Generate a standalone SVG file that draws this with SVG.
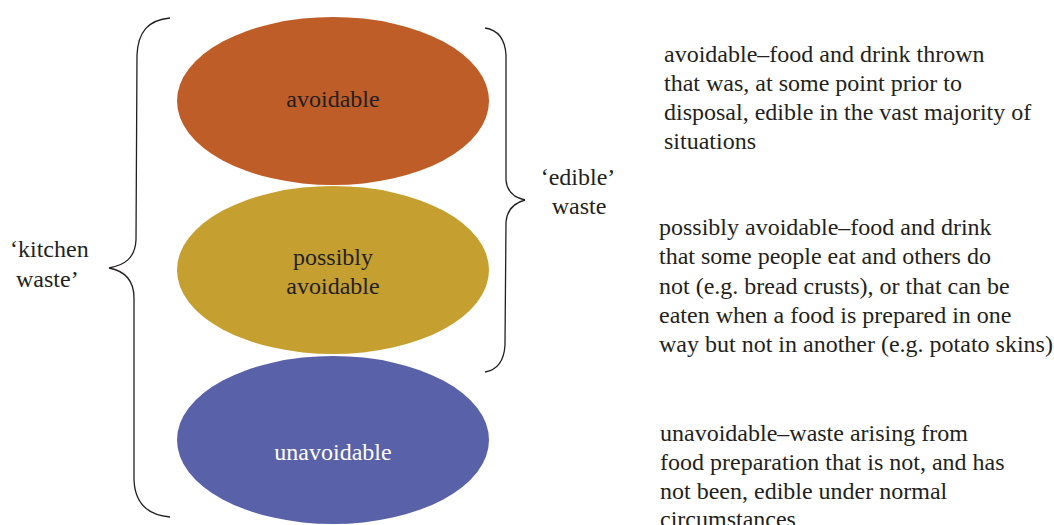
<svg xmlns="http://www.w3.org/2000/svg" width="1054" height="525" viewBox="0 0 1054 525">
<style>
text{font-family:"Liberation Serif","Times New Roman",serif;font-size:24px;fill:#231f20}
.c{text-anchor:middle}
.w{fill:#ffffff}
.br{fill:none;stroke:#231f20;stroke-width:1.3}
</style>
<rect width="1054" height="525" fill="#ffffff"/>
<g id="node-avoidable">
<ellipse cx="333" cy="101" rx="156" ry="84" fill="#be5d28"/>
<text class="c" x="333" y="107">avoidable</text>
</g>
<g id="node-possibly">
<ellipse cx="333" cy="270" rx="156" ry="84" fill="#c5a030"/>
<text class="c" x="333" y="265">possibly</text>
<text class="c" x="333" y="294">avoidable</text>
</g>
<g id="node-unavoidable">
<ellipse cx="333" cy="440" rx="156" ry="84" fill="#5961a9"/>
<text class="c w" x="333" y="460">unavoidable</text>
</g>
<g id="connectors">
<path class="br" d="M170,18 C148,20 138,32 137,55 L136,240 C135,258 125,265 109,268 C125,271 134,280 134,298 L134,480 C135,503 147,515 170,517"/>
<path class="br" d="M485,28 C498,30 505,38 506,55 L506,180 C507,192 515,198 525,200 C514,203 507,210 506,222 L505,345 C504,362 497,370 485,372"/>
</g>
<g id="labels">
<text x="10" y="257">‘kitchen</text>
<text x="16" y="287">waste’</text>
<text class="c" x="578" y="185">‘edible’</text>
<text class="c" x="579" y="214">waste</text>
</g>
<g id="desc-avoidable">
<text x="664" y="62">avoidable–food and drink thrown</text>
<text x="664" y="91">that was, at some point prior to</text>
<text x="664" y="120">disposal, edible in the vast majority of</text>
<text x="664" y="149">situations</text>
</g>
<g id="desc-possibly">
<text x="659" y="235">possibly avoidable–food and drink</text>
<text x="659" y="264">that some people eat and others do</text>
<text x="659" y="294">not (e.g. bread crusts), or that can be</text>
<text x="659" y="323">eaten when a food is prepared in one</text>
<text x="659" y="352">way but not in another (e.g. potato skins)</text>
</g>
<g id="desc-unavoidable">
<text x="660" y="441">unavoidable–waste arising from</text>
<text x="660" y="470">food preparation that is not, and has</text>
<text x="660" y="499">not been, edible under normal</text>
<text x="660" y="527">circumstances</text>
</g>
</svg>
